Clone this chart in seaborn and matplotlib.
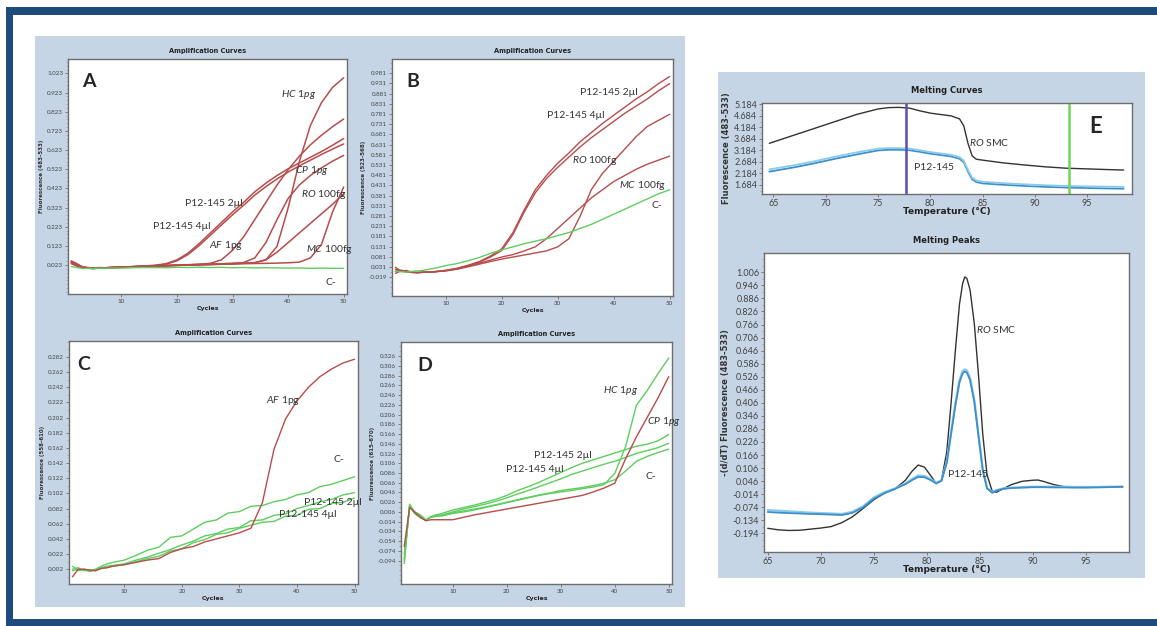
import matplotlib
matplotlib.use("Agg")
import matplotlib.pyplot as plt
from matplotlib.patches import Rectangle
from matplotlib.ticker import FixedLocator, AutoMinorLocator, FormatStrFormatter
import seaborn as sns

sns.set_style("ticks")
plt.rcParams['font.family'] = ['Lato', 'DejaVu Sans']
plt.rcParams['mathtext.fontset'] = 'custom'
plt.rcParams['mathtext.rm'] = 'Lato'
plt.rcParams['mathtext.it'] = 'Lato:italic'
plt.rcParams['axes.unicode_minus'] = False

# ---------------- data ----------------
CYCLES = [1, 2, 3, 4, 5, 6, 7, 8, 10, 12, 14, 16, 18, 20, 22, 24, 26, 28, 30,
          32, 34, 36, 38, 40, 42, 44, 46, 48, 50]

# Panel A  (483-533)
a_p2 = [0.045, 0.028, 0.012, 0.008, 0.006, 0.009, 0.007, 0.010, 0.012, 0.015, 0.018, 0.022, 0.030, 0.050, 0.085, 0.135, 0.190, 0.245, 0.300, 0.350, 0.405, 0.450, 0.490, 0.525, 0.555, 0.585, 0.615, 0.648, 0.683]
a_p4 = [0.038, 0.022, 0.010, 0.007, 0.005, 0.008, 0.006, 0.009, 0.011, 0.014, 0.017, 0.020, 0.027, 0.045, 0.078, 0.125, 0.178, 0.232, 0.285, 0.335, 0.388, 0.432, 0.472, 0.508, 0.540, 0.570, 0.600, 0.628, 0.655]
a_af = [0.040, 0.025, 0.012, 0.009, 0.008, 0.010, 0.009, 0.011, 0.013, 0.015, 0.017, 0.019, 0.021, 0.023, 0.025, 0.027, 0.032, 0.050, 0.100, 0.170, 0.260, 0.350, 0.440, 0.520, 0.590, 0.650, 0.700, 0.745, 0.785]
a_cp = [0.035, 0.020, 0.010, 0.006, 0.005, 0.007, 0.008, 0.009, 0.012, 0.014, 0.016, 0.018, 0.020, 0.022, 0.024, 0.026, 0.028, 0.030, 0.032, 0.036, 0.060, 0.140, 0.260, 0.370, 0.440, 0.490, 0.530, 0.565, 0.595]
a_hc = [0.042, 0.030, 0.014, 0.010, 0.007, 0.009, 0.008, 0.010, 0.012, 0.014, 0.016, 0.018, 0.020, 0.022, 0.024, 0.026, 0.027, 0.029, 0.031, 0.033, 0.036, 0.050, 0.120, 0.320, 0.560, 0.750, 0.870, 0.950, 1.000]
a_ro = [0.030, 0.018, 0.009, 0.007, 0.006, 0.008, 0.007, 0.009, 0.011, 0.013, 0.015, 0.017, 0.019, 0.021, 0.023, 0.025, 0.026, 0.028, 0.030, 0.032, 0.035, 0.050, 0.090, 0.140, 0.190, 0.240, 0.290, 0.340, 0.395]
a_mc = [0.033, 0.021, 0.011, 0.008, 0.006, 0.007, 0.008, 0.010, 0.012, 0.013, 0.015, 0.017, 0.019, 0.021, 0.022, 0.024, 0.025, 0.027, 0.028, 0.030, 0.031, 0.032, 0.033, 0.035, 0.038, 0.060, 0.130, 0.300, 0.430]
a_neg = [0.015, 0.010, 0.005, 0.006, 0.005, 0.007, 0.006, 0.008, 0.007, 0.009, 0.010, 0.010, 0.009, 0.011, 0.010, 0.012, 0.010, 0.011, 0.009, 0.010, 0.008, 0.009, 0.008, 0.007, 0.008, 0.006, 0.007, 0.006, 0.006]

# Panel B  (523-568)
b_p2 = [0.020, 0.012, 0.014, 0.006, 0.004, 0.006, 0.005, 0.008, 0.015, 0.025, 0.040, 0.058, 0.085, 0.120, 0.200, 0.310, 0.410, 0.480, 0.540, 0.590, 0.645, 0.690, 0.735, 0.775, 0.815, 0.855, 0.890, 0.930, 0.965]
b_p4 = [0.010, 0.016, 0.008, 0.004, 0.003, 0.005, 0.006, 0.007, 0.013, 0.023, 0.037, 0.055, 0.080, 0.112, 0.190, 0.300, 0.395, 0.465, 0.520, 0.570, 0.620, 0.665, 0.705, 0.745, 0.785, 0.820, 0.855, 0.895, 0.930]
b_ro = [0.000, 0.012, 0.008, 0.006, 0.004, 0.005, 0.007, 0.008, 0.012, 0.020, 0.032, 0.045, 0.058, 0.070, 0.080, 0.090, 0.100, 0.110, 0.130, 0.170, 0.280, 0.410, 0.490, 0.550, 0.610, 0.670, 0.720, 0.750, 0.780]
b_mc = [0.030, 0.010, 0.009, 0.005, 0.004, 0.006, 0.007, 0.009, 0.014, 0.022, 0.036, 0.050, 0.065, 0.080, 0.092, 0.110, 0.130, 0.170, 0.220, 0.270, 0.320, 0.370, 0.410, 0.450, 0.480, 0.510, 0.535, 0.555, 0.575]
b_neg = [0.010, 0.008, 0.006, 0.010, 0.012, 0.015, 0.020, 0.025, 0.038, 0.048, 0.062, 0.078, 0.098, 0.115, 0.130, 0.145, 0.158, 0.170, 0.185, 0.200, 0.220, 0.240, 0.265, 0.290, 0.315, 0.340, 0.365, 0.390, 0.410]

# Panel C  (558-610)
c_af = [-0.008, 0.002, 0.002, 0.001, 0.000, 0.003, 0.004, 0.006, 0.008, 0.011, 0.014, 0.016, 0.024, 0.029, 0.032, 0.038, 0.042, 0.046, 0.050, 0.056, 0.090, 0.160, 0.200, 0.224, 0.242, 0.256, 0.266, 0.274, 0.279]
c_neg = [0.006, 0.000, 0.002, 0.000, 0.002, 0.006, 0.009, 0.011, 0.014, 0.020, 0.027, 0.031, 0.044, 0.046, 0.055, 0.064, 0.067, 0.076, 0.078, 0.085, 0.086, 0.091, 0.094, 0.100, 0.103, 0.111, 0.114, 0.119, 0.124]
c_p2 = [0.002, 0.004, 0.000, 0.001, 0.000, 0.004, 0.006, 0.007, 0.009, 0.014, 0.018, 0.023, 0.028, 0.034, 0.039, 0.046, 0.049, 0.055, 0.057, 0.066, 0.067, 0.073, 0.075, 0.082, 0.086, 0.091, 0.094, 0.100, 0.103]
c_p4 = [0.000, 0.002, 0.001, -0.001, 0.001, 0.003, 0.004, 0.006, 0.008, 0.012, 0.016, 0.019, 0.026, 0.029, 0.037, 0.041, 0.048, 0.050, 0.056, 0.060, 0.064, 0.065, 0.072, 0.073, 0.081, 0.082, 0.089, 0.090, 0.096]

# Panel D  (615-670)
d_hc = [-0.100, 0.020, 0.006, 0.000, -0.010, -0.004, 0.000, -0.002, 0.003, 0.006, 0.010, 0.015, 0.020, 0.025, 0.030, 0.035, 0.040, 0.044, 0.047, 0.050, 0.054, 0.057, 0.062, 0.085, 0.140, 0.225, 0.255, 0.290, 0.322]
d_cp = [-0.065, 0.015, 0.005, -0.005, -0.012, -0.010, -0.010, -0.010, -0.010, -0.005, 0.000, 0.004, 0.008, 0.012, 0.016, 0.020, 0.024, 0.028, 0.032, 0.036, 0.040, 0.047, 0.055, 0.065, 0.115, 0.160, 0.200, 0.240, 0.284]
d_p2 = [-0.095, 0.022, 0.002, -0.004, -0.012, -0.003, 0.000, 0.003, 0.010, 0.015, 0.020, 0.026, 0.032, 0.040, 0.050, 0.058, 0.067, 0.077, 0.087, 0.097, 0.106, 0.113, 0.120, 0.127, 0.134, 0.141, 0.145, 0.152, 0.165]
d_p4 = [-0.090, 0.018, 0.002, -0.006, -0.011, -0.004, -0.002, 0.000, 0.006, 0.012, 0.017, 0.022, 0.028, 0.035, 0.043, 0.050, 0.058, 0.066, 0.074, 0.083, 0.090, 0.097, 0.104, 0.110, 0.118, 0.126, 0.132, 0.138, 0.147]
d_neg = [-0.080, 0.016, 0.003, -0.004, -0.011, -0.005, -0.003, -0.002, 0.004, 0.008, 0.012, 0.016, 0.021, 0.026, 0.031, 0.036, 0.041, 0.045, 0.050, 0.053, 0.056, 0.060, 0.065, 0.072, 0.090, 0.110, 0.120, 0.128, 0.135]

# Panel E - melting curves
TEMP_MC = [64.6, 67, 69, 71, 73, 75, 76, 77, 78, 79, 80, 81, 82, 82.8, 83.2, 83.6,
           84.0, 84.4, 85, 87, 89, 91, 93, 95, 97, 98.5]
mc_ro = [3.49, 3.85, 4.15, 4.45, 4.75, 4.98, 5.04, 5.05, 5.02, 4.90, 4.80, 4.74, 4.68, 4.55, 4.25, 3.50, 2.95, 2.80, 2.76, 2.64, 2.55, 2.47, 2.41, 2.38, 2.35, 2.33]
mc_p1 = [2.36, 2.54, 2.72, 2.92, 3.10, 3.26, 3.28, 3.28, 3.26, 3.19, 3.11, 3.05, 2.99, 2.89, 2.74, 2.34, 2.00, 1.88, 1.82, 1.76, 1.71, 1.67, 1.64, 1.62, 1.61, 1.60]
mc_p2 = [2.26, 2.45, 2.63, 2.83, 3.01, 3.18, 3.21, 3.21, 3.19, 3.12, 3.04, 2.98, 2.92, 2.82, 2.67, 2.27, 1.93, 1.81, 1.75, 1.69, 1.64, 1.60, 1.57, 1.55, 1.53, 1.52]
CURSOR_LO = 77.7
CURSOR_HI = 93.3

# Panel E - melting peaks
TEMP_MP = [65, 66, 67, 68, 69, 70, 71, 72, 73, 74, 75, 76, 77, 78, 78.6, 79.2, 79.8,
           80.4, 80.9, 81.4, 81.9, 82.3, 82.7, 83.1, 83.4, 83.6, 83.8, 84.1, 84.5,
           84.9, 85.3, 85.7, 86.2, 86.6, 87.2, 88, 89, 90, 90.5, 91, 92, 93, 94, 95,
           96, 97, 98.5]
mp_ro = [-0.171, -0.178, -0.181, -0.180, -0.175, -0.170, -0.163, -0.145, -0.118, -0.080, -0.040, -0.010, 0.010, 0.050, 0.090, 0.120, 0.110, 0.070, 0.036, 0.050, 0.180, 0.400, 0.640, 0.860, 0.955, 0.985, 0.978, 0.925, 0.770, 0.530, 0.260, 0.075, -0.002, -0.005, 0.010, 0.030, 0.045, 0.050, 0.051, 0.045, 0.030, 0.020, 0.018, 0.018, 0.018, 0.020, 0.020]
mp_p1 = [-0.087, -0.090, -0.093, -0.096, -0.099, -0.101, -0.103, -0.105, -0.095, -0.070, -0.030, -0.005, 0.012, 0.035, 0.055, 0.072, 0.070, 0.055, 0.038, 0.050, 0.135, 0.270, 0.400, 0.510, 0.552, 0.560, 0.555, 0.520, 0.420, 0.260, 0.100, 0.015, -0.005, 0.005, 0.012, 0.016, 0.018, 0.020, 0.020, 0.020, 0.020, 0.020, 0.019, 0.019, 0.019, 0.020, 0.021]
mp_p2 = [-0.096, -0.099, -0.101, -0.103, -0.105, -0.106, -0.108, -0.110, -0.100, -0.075, -0.035, -0.010, 0.010, 0.032, 0.050, 0.065, 0.064, 0.050, 0.035, 0.047, 0.130, 0.260, 0.390, 0.500, 0.542, 0.550, 0.545, 0.510, 0.410, 0.250, 0.095, 0.012, -0.008, 0.002, 0.010, 0.014, 0.016, 0.018, 0.018, 0.018, 0.017, 0.017, 0.016, 0.016, 0.017, 0.018, 0.020]

# tick labels
CYCLE_TICKS = [10, 20, 30, 40, 50]
TEMP_TICKS = [65, 70, 75, 80, 85, 90, 95]
A_YTICKS = [0.023, 0.123, 0.223, 0.323, 0.423, 0.523, 0.623, 0.723, 0.823, 0.923, 1.023]
B_YTICKS = [-0.019, 0.031, 0.081, 0.131, 0.181, 0.231, 0.281, 0.331, 0.381, 0.431, 0.481,
            0.531, 0.581, 0.631, 0.681, 0.731, 0.781, 0.831, 0.881, 0.931, 0.981]
C_YTICKS = [0.002, 0.022, 0.042, 0.062, 0.082, 0.102, 0.122, 0.142, 0.162, 0.182, 0.202,
            0.222, 0.242, 0.262, 0.282]
D_YTICKS = [-0.094, -0.074, -0.054, -0.034, -0.014, 0.006, 0.026, 0.046, 0.066, 0.086,
            0.106, 0.126, 0.146, 0.166, 0.186, 0.206, 0.226, 0.246, 0.266, 0.286, 0.306, 0.326]
E1_YTICKS = [1.684, 2.184, 2.684, 3.184, 3.684, 4.184, 4.684, 5.184]
E2_YTICKS = [-0.194, -0.134, -0.074, -0.014, 0.046, 0.106, 0.166, 0.226, 0.286, 0.346,
             0.406, 0.466, 0.526, 0.586, 0.646, 0.706, 0.766, 0.826, 0.886, 0.946, 1.006]

# ---------------- styling ----------------
RED = "#b84c4c"
GREEN = "#5fcd5f"
BLACK = "#333333"
BLUE = "#3d8fcc"
LBLUE = "#8ccbe8"
PANEL = "#c6d5e5"
FRAME = "#1f4a7c"
SPINE = "#6e6e6e"

W, H = 1157, 626
fig = plt.figure(figsize=(W / 100, H / 100), dpi=100)
fig.patch.set_facecolor("white")


def rect_px(x0, y0, x1, y1, color):
    fig.patches.append(Rectangle((x0 / W, 1 - y1 / H), (x1 - x0) / W, (y1 - y0) / H,
                                 transform=fig.transFigure, facecolor=color,
                                 edgecolor="none", zorder=-5))


def add_ax(x0, y0, x1, y1):
    return fig.add_axes([x0 / W, 1 - y1 / H, (x1 - x0) / W, (y1 - y0) / H])


def style(ax, xticks, yticks, xlim, ylim, tsize, minor_n, ylabel, lsize):
    ax.set_facecolor("white")
    for sp in ax.spines.values():
        sp.set_visible(True)
        sp.set_color(SPINE)
        sp.set_linewidth(1.0)
    ax.set_xlim(*xlim)
    ax.set_ylim(*ylim)
    ax.xaxis.set_major_locator(FixedLocator(xticks))
    ax.yaxis.set_major_locator(FixedLocator(yticks))
    ax.yaxis.set_major_formatter(FormatStrFormatter("%.3f"))
    ax.yaxis.set_minor_locator(AutoMinorLocator(minor_n))
    ax.tick_params(axis="both", which="major", direction="out", length=2.5, width=0.6,
                   color=SPINE, labelsize=tsize, labelcolor="#444444", pad=1)
    ax.tick_params(axis="y", which="minor", direction="out", length=1.3, width=0.5,
                   color="#999999")
    ax.set_xlabel("")
    ax.set_ylabel(ylabel, fontsize=lsize, fontweight="bold", color="#333333",
                  family="DejaVu Sans", labelpad=2)


def curve(ax, x, y, color, lw=1.0):
    sns.lineplot(x=x, y=y, ax=ax, color=color, lw=lw, estimator=None, sort=False,
                 legend=False)


# frame and panel backgrounds
rect_px(6, 7, W, 15, FRAME)
rect_px(6, 7, 13, H, FRAME)
rect_px(6, 619, W, H, FRAME)
rect_px(35, 36, 685, 607, PANEL)
rect_px(718, 72, 1145, 578, PANEL)

LAB = dict(fontsize=7.5, color="#333333")
XLIM_CYC = (0.4, 50.6)

# ---- A ----
axA = add_ax(68, 59, 347, 294)
for ys in [a_ro, a_mc, a_cp, a_af, a_hc, a_p4, a_p2]:
    curve(axA, CYCLES, ys, RED, 1.1)
curve(axA, CYCLES, a_neg, GREEN)
style(axA, CYCLE_TICKS, A_YTICKS, XLIM_CYC, (-0.128, 1.098), 4.5, 5,
      "Fluorescence (483-533)", 4)
axA.text(0.05, 0.94, "A", transform=axA.transAxes, fontsize=14, fontweight="bold",
         va="top", ha="left")
axA.text(38.7, 0.90, r"$\mathit{HC\ 1pg}$", **LAB)
axA.text(41.2, 0.505, r"$\mathit{CP\ 1pg}$", **LAB)
axA.text(42.3, 0.376, r"$\mathit{RO}$ 100fg", **LAB)
axA.text(21.5, 0.331, "P12-145 2µl", **LAB)
axA.text(15.7, 0.209, "P12-145 4µl", **LAB)
axA.text(25.8, 0.11, r"$\mathit{AF}$ 1pg", **LAB)
axA.text(43.3, 0.092, r"$\mathit{MC}$ 100fg", **LAB)
axA.text(46.7, -0.081, "C-", **LAB)

# ---- B ----
axB = add_ax(392, 59, 673, 296)
for ys in [b_ro, b_mc, b_p4, b_p2]:
    curve(axB, CYCLES, ys, RED)
curve(axB, CYCLES, b_neg, GREEN)
style(axB, CYCLE_TICKS, B_YTICKS, XLIM_CYC, (-0.111, 1.051), 4.5, 2,
      "Fluorescence (523-568)", 4)
axB.text(0.05, 0.94, "B", transform=axB.transAxes, fontsize=14, fontweight="bold",
         va="top", ha="left")
axB.text(34.0, 0.875, "P12-145 2µl", **LAB)
axB.text(28.1, 0.76, "P12-145 4µl", **LAB)
axB.text(32.6, 0.543, r"$\mathit{RO}$ 100fg", **LAB)
axB.text(40.9, 0.417, r"$\mathit{MC}$ 100fg", **LAB)
axB.text(46.7, 0.322, "C-", **LAB)

# ---- C ----
axC = add_ax(69, 341, 358, 584)
for ys in [c_neg, c_p2, c_p4]:
    curve(axC, CYCLES, ys, GREEN)
curve(axC, CYCLES, c_af, RED)
style(axC, CYCLE_TICKS, C_YTICKS, XLIM_CYC, (-0.0175, 0.303), 4.5, 2,
      "Fluorescence (558-610)", 4)
axC.text(0.03, 0.94, "C", transform=axC.transAxes, fontsize=14, fontweight="bold",
         va="top", ha="left")
axC.text(34.6, 0.221, r"$\mathit{AF}$ 1pg", **LAB)
axC.text(46.3, 0.144, "C-", **LAB)
axC.text(41.3, 0.087, "P12-145 2µl", **LAB)
axC.text(36.9, 0.071, "P12-145 4µl", **LAB)

# ---- D ----
axD = add_ax(401, 342, 672, 584)
for ys in [d_neg, d_p4, d_p2, d_hc]:
    curve(axD, CYCLES, ys, GREEN)
curve(axD, CYCLES, d_cp, RED)
style(axD, CYCLE_TICKS, D_YTICKS, XLIM_CYC, (-0.142, 0.355), 4.5, 2,
      "Fluorescence (615-670)", 4)
axD.text(0.06, 0.94, "D", transform=axD.transAxes, fontsize=14, fontweight="bold",
         va="top", ha="left")
axD.text(37.9, 0.251, r"$\mathit{HC\ 1pg}$", **LAB)
axD.text(46.0, 0.186, r"$\mathit{CP\ 1pg}$", **LAB)
axD.text(25.1, 0.116, "P12-145 2µl", **LAB)
axD.text(19.8, 0.089, "P12-145 4µl", **LAB)
axD.text(45.6, 0.074, "C-", **LAB)

for ax in [axA, axB, axC, axD]:
    bb = ax.get_position()
    cx = (bb.x0 + bb.x1) / 2
    fig.text(cx, bb.y1 + 5 / H, "Amplification Curves", ha="center", va="bottom",
             fontsize=4.8, fontweight="bold", family="DejaVu Sans", color="#222222")
    fig.text(cx, bb.y0 - 12 / H, "Cycles", ha="center", va="top", fontsize=4.5,
             fontweight="bold", family="DejaVu Sans", color="#222222")

# ---- E: melting curves ----
axE1 = add_ax(762, 103, 1132, 194)
curve(axE1, TEMP_MC, mc_ro, BLACK)
curve(axE1, TEMP_MC, mc_p2, BLUE, 1.3)
curve(axE1, TEMP_MC, mc_p1, LBLUE, 1.3)
axE1.axvline(CURSOR_LO, color="#5b4fb0", lw=1.8)
axE1.axvline(CURSOR_HI, color="#6fd45a", lw=1.8)
style(axE1, TEMP_TICKS, E1_YTICKS, (63.9, 99.3), (1.29, 5.24), 6.5, 2,
      "Fluorescence (483-533)", 6)
axE1.text(0.885, 0.86, "E", transform=axE1.transAxes, fontsize=16, fontweight="bold",
          va="top", ha="left")
axE1.text(83.7, 3.37, r"$\mathit{RO}$ SMC", **LAB)
axE1.text(78.4, 2.33, "P12-145", **LAB)

# ---- E: melting peaks ----
axE2 = add_ax(764, 253, 1129, 552)
curve(axE2, TEMP_MP, mp_ro, BLACK)
curve(axE2, TEMP_MP, mp_p1, LBLUE, 1.6)
curve(axE2, TEMP_MP, mp_p2, BLUE, 1.3)
style(axE2, TEMP_TICKS, E2_YTICKS, (64.65, 99.1), (-0.28, 1.095), 6.5, 2,
      "-(d/dT) Fluorescence (483-533)", 6)
axE2.text(84.7, 0.728, r"$\mathit{RO}$ SMC", **LAB)
axE2.text(82.0, 0.066, "P12-145", **LAB)

for ax, title in [(axE1, "Melting Curves"), (axE2, "Melting Peaks")]:
    bb = ax.get_position()
    cx = (bb.x0 + bb.x1) / 2
    fig.text(cx, bb.y1 + 8 / H, title, ha="center", va="bottom", fontsize=6,
             fontweight="bold", family="DejaVu Sans", color="#222222")
    fig.text(cx, bb.y0 - 13 / H, "Temperature (°C)", ha="center", va="top",
             fontsize=6.5, fontweight="bold", family="DejaVu Sans", color="#222222")

fig.savefig("out.png", dpi=100, facecolor="white")
